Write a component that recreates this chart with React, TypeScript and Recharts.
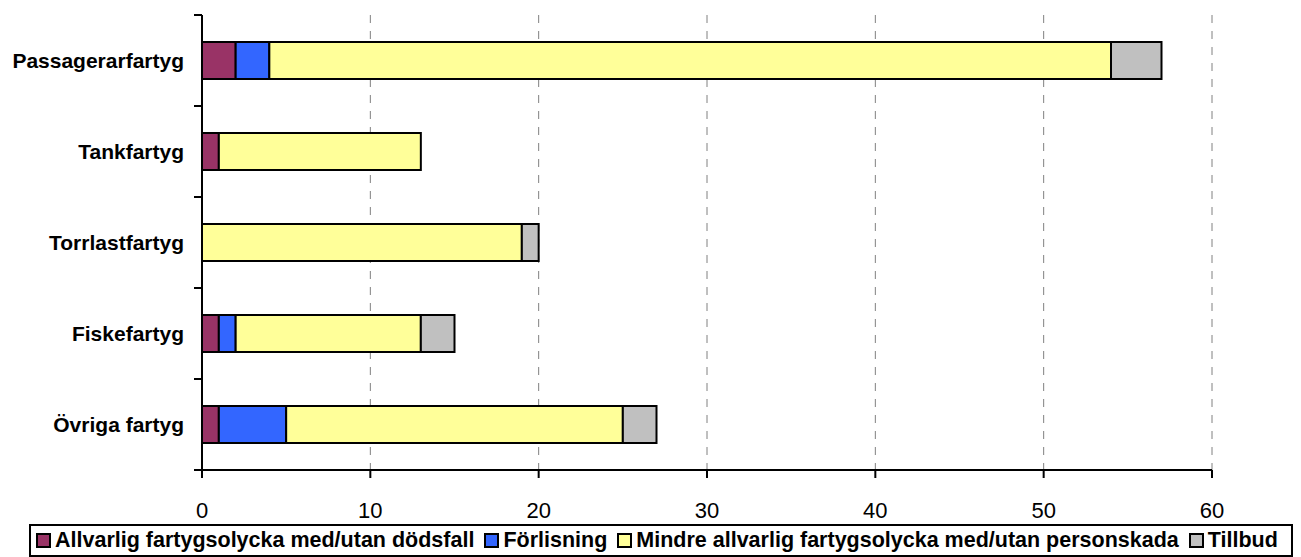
import React from 'react';
import { BarChart, Bar, XAxis, YAxis, CartesianGrid } from 'recharts';

const categories = ['Passagerarfartyg', 'Tankfartyg', 'Torrlastfartyg', 'Fiskefartyg', 'Övriga fartyg'];
const allvarlig = [2, 1, 0, 1, 1];
const forlisning = [2, 0, 0, 1, 4];
const mindre = [50, 12, 19, 11, 20];
const tillbud = [3, 0, 1, 2, 2];
const xTicks = [0, 10, 20, 30, 40, 50, 60];

const SERIES = [
  { key: 'allvarlig', name: 'Allvarlig fartygsolycka med/utan dödsfall', color: '#993366' },
  { key: 'forlisning', name: 'Förlisning', color: '#3366FF' },
  { key: 'mindre', name: 'Mindre allvarlig fartygsolycka med/utan personskada', color: '#FFFF99' },
  { key: 'tillbud', name: 'Tillbud', color: '#C0C0C0' },
];

const data = categories.map((name, i) => ({
  name,
  allvarlig: allvarlig[i],
  forlisning: forlisning[i],
  mindre: mindre[i],
  tillbud: tillbud[i],
}));

const FONT = '"Liberation Sans", Arial, sans-serif';
const W = 1301;
const H = 557;
const MARGIN = { top: 15, right: 89, bottom: 0, left: 0 };
const Y_AXIS_W = 202;
const X_AXIS_H = 87;
const LABEL_GAP = 18;
// height of one category band, used for the tick marks between categories
const BAND = (H - MARGIN.top - MARGIN.bottom - X_AXIS_H) / categories.length;

const CategoryTick = (props: any) => {
  const { x, y, payload, index, visibleTicksCount } = props;
  const axisX = x + LABEL_GAP;
  const last = index === visibleTicksCount - 1;
  return (
    <g>
      <line x1={axisX - 8} x2={axisX} y1={y - BAND / 2} y2={y - BAND / 2} stroke="#000" strokeWidth={2} />
      {last && <line x1={axisX - 8} x2={axisX} y1={y + BAND / 2} y2={y + BAND / 2} stroke="#000" strokeWidth={2} />}
      <text x={x} y={y} dy="0.355em" textAnchor="end" fill="#000" fontSize={21} fontWeight="bold" fontFamily={FONT}>
        {payload.value}
      </text>
    </g>
  );
};

const ValueTick = (props: any) => {
  const { x, y, payload } = props;
  return (
    <text x={x} y={y} dy="0.71em" textAnchor="middle" fill="#000" fontSize={22} fontFamily={FONT}>
      {payload.value}
    </text>
  );
};

const App: React.FC = () => {
  return (
    <div style={{ position: 'absolute', left: 0, top: 0, width: W, height: H, background: '#fff', fontFamily: FONT }}>
      <BarChart
        width={W}
        height={H}
        data={data}
        layout="vertical"
        margin={MARGIN}
        barSize={37}
      >
        <CartesianGrid
          horizontal={false}
          vertical={true}
          stroke="#808080"
          strokeDasharray="8 8"
        />
        <XAxis
          type="number"
          domain={[0, 60]}
          ticks={xTicks}
          height={X_AXIS_H}
          tickSize={8}
          tickMargin={24}
          axisLine={{ stroke: '#000', strokeWidth: 2 }}
          tickLine={{ stroke: '#000', strokeWidth: 2 }}
          tick={<ValueTick />}
        />
        <YAxis
          type="category"
          dataKey="name"
          width={Y_AXIS_W}
          axisLine={{ stroke: '#000', strokeWidth: 2 }}
          tickLine={false}
          tickSize={0}
          tickMargin={LABEL_GAP}
          tick={<CategoryTick />}
        />
        {SERIES.map(s => (
          <Bar
            key={s.key}
            dataKey={s.key}
            name={s.name}
            stackId="a"
            fill={s.color}
            stroke="#000"
            strokeWidth={2}
            isAnimationActive={false}
          />
        ))}
      </BarChart>
      <div
        style={{
          position: 'absolute',
          left: 29,
          top: 524,
          width: 1264,
          height: 33,
          boxSizing: 'border-box',
          border: '2px solid #000',
          display: 'flex',
          alignItems: 'center',
          paddingLeft: 5,
          fontSize: 21.5,
          fontWeight: 'bold',
          whiteSpace: 'nowrap',
        }}
      >
        {SERIES.map(s => (
          <div key={s.key} style={{ display: 'flex', alignItems: 'center', marginRight: 10 }}>
            <div style={{ width: 15, height: 15, boxSizing: 'border-box', background: s.color, border: '2px solid #000', marginRight: 4 }} />
            <span>{s.name}</span>
          </div>
        ))}
      </div>
    </div>
  );
};

export default App;
